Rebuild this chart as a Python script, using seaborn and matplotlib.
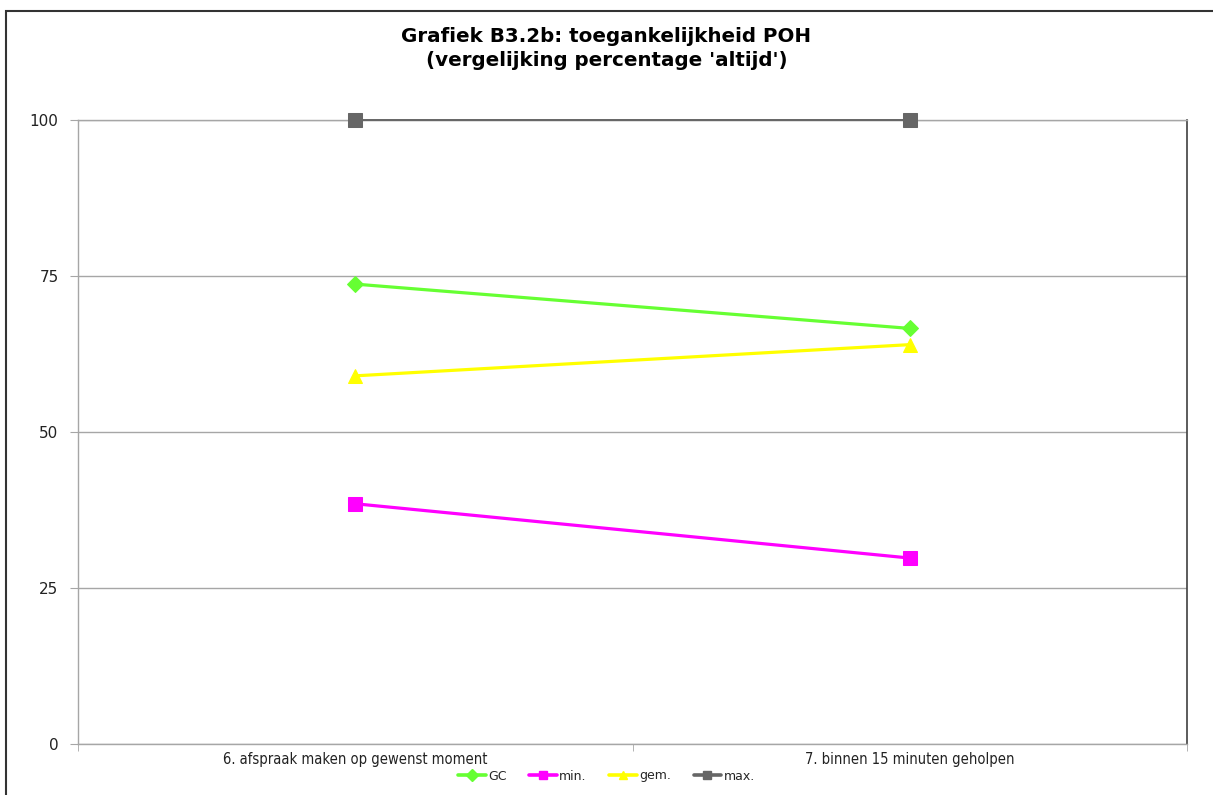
import matplotlib
matplotlib.use("Agg")
import matplotlib.pyplot as plt
import numpy as np
import pandas as pd
import seaborn as sns
from matplotlib.patches import Rectangle
from matplotlib.lines import Line2D

# data
categories = ["6. afspraak maken op gewenst moment", "7. binnen 15 minuten geholpen"]
series_names = ["GC", "min.", "gem.", "max."]
gc_values = [73.7, 66.6]
min_values = [38.5, 29.8]
gem_values = [59.0, 64.0]
max_values = [100.0, 100.0]
y_ticks = [0, 25, 50, 75, 100]

colors = {"GC": "#66ff33", "min.": "#ff00ff", "gem.": "#ffff00", "max.": "#666666"}
markers = {"GC": "D", "min.": "s", "gem.": "^", "max.": "s"}
msizes = {"GC": 8.5, "min.": 10.5, "gem.": 10.5, "max.": 10.5}
lwidths = {"GC": 2.3, "min.": 2.3, "gem.": 2.3, "max.": 1.4}

df = pd.DataFrame({
  "pos": list(range(len(categories))) * 4,
  "value": gc_values + min_values + gem_values + max_values,
  "series": [s for s in series_names for _ in categories],
})

sns.set_style("white")
plt.rcParams["font.family"] = ["DejaVu Sans"]

fig = plt.figure(figsize=(12.13, 7.95), dpi=100)
ax = fig.add_axes([78 / 1213, 1 - 744 / 795, (1187 - 78) / 1213, (744 - 120) / 795])

for i, name in enumerate(series_names):
  sub = df[df["series"] == name]
  sns.lineplot(data=sub, x="pos", y="value", ax=ax, color=colors[name],
               marker=markers[name], markersize=msizes[name], markeredgecolor=colors[name],
               linewidth=lwidths[name], legend=False, zorder=3 + i)
for line in ax.lines:
  line.set_clip_on(False)

ax.set_xlim(-0.5, len(categories) - 0.5)
ax.set_ylim(0, 100)
ax.set_yticks(y_ticks)
ax.set_yticklabels([str(t) for t in y_ticks], fontsize=11, color="#222222")
ax.yaxis.grid(True, color="#a6a6a6", linewidth=1)
ax.set_axisbelow(True)
ax.tick_params(axis="y", length=6, color="#a6a6a6", direction="out", pad=8, left=True)

ax.set_xticks(range(len(categories)))
ax.set_xticklabels(categories, fontsize=10.5, color="#222222", fontstretch="condensed")
ax.tick_params(axis="x", length=0, pad=6)
ax.set_xticks(np.arange(-0.5, len(categories)), minor=True)
ax.tick_params(axis="x", which="minor", length=5, color="#a6a6a6", direction="out", bottom=True)
ax.set_xlabel("")
ax.set_ylabel("")

for side in ["left", "bottom", "top"]:
  ax.spines[side].set_color("#a6a6a6")
  ax.spines[side].set_linewidth(1)
ax.spines["right"].set_color("#404040")
ax.spines["right"].set_linewidth(1.2)

fig.text(0.5, 1 - 37 / 795, "Grafiek B3.2b: toegankelijkheid POH", ha="center", va="center",
         fontsize=14.3, fontweight="bold", color="black")
fig.text(0.5, 1 - 61 / 795, "(vergelijking percentage 'altijd')", ha="center", va="center",
         fontsize=14.3, fontweight="bold", color="black")

handles = [Line2D([0], [0], color=colors[n], marker=markers[n], markersize=6, linewidth=2.6,
                  markeredgecolor=colors[n]) for n in series_names]
fig.legend(handles, series_names, loc="center", bbox_to_anchor=(0.5, 1 - 776 / 795), ncol=4,
           frameon=False, fontsize=9, handlelength=2.2, handletextpad=0.2, columnspacing=1.8)

# outer chart border
fig.patches.append(Rectangle((6 / 1213, -0.05), 1.1, 1 - 11 / 795 + 0.05, transform=fig.transFigure,
                             fill=False, edgecolor="#333333", linewidth=1.5, clip_on=False))

plt.savefig("out.png", dpi=100)
